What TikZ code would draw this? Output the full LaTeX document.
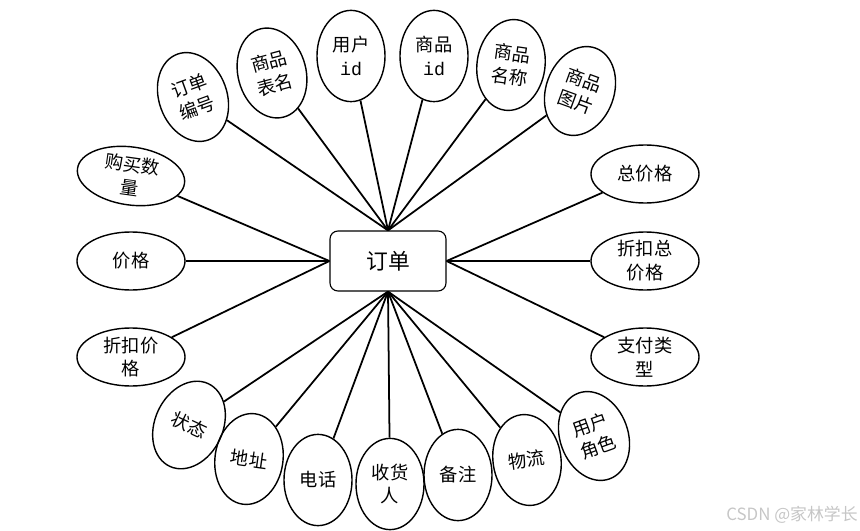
\documentclass[tikz,border=0pt]{standalone}
\usepackage{fontspec}
\setmainfont{Noto Sans CJK SC}
\newfontfamily\idfont{Liberation Mono}
\usetikzlibrary{shapes.geometric}
\tikzset{
  attr/.style={draw, ellipse, line width=1pt, inner sep=0pt,
    minimum width=1.7cm, minimum height=2.28cm, align=center,
    font=\fontsize{13}{17}\selectfont},
  wide/.style={minimum width=2.7cm, minimum height=1.45cm},
  entity/.style={draw, rounded corners=0.2cm, line width=0.8pt,
    minimum width=2.9cm, minimum height=1.5cm,
    font=\fontsize{15.5}{18}\selectfont},
  link/.style={line width=1.25pt},
}

\begin{document}
\begin{tikzpicture}[x=0.025cm, y=-0.025cm]
  \useasboundingbox (0,0) rectangle (860,531);
  % entity
  \node[entity] (order) at (388,261) {订单};
  % attributes above
  \node[attr, rotate=20] (ordno) at (193,97) {订单\\编号};
  \node[attr, rotate=15] (tbl) at (272,73) {商品\\表名};
  \node[attr] (uid) at (351,56) {用户\\{\idfont id}};
  \node[attr] (gid) at (434,56) {商品\\{\idfont id}};
  \node[attr, rotate=-8] (gname) at (511,65) {商品\\名称};
  \node[attr, rotate=-20] (gpic) at (580,91) {商品\\图片};
  % attributes left and right
  \node[attr, wide, rotate=-8] (qty) at (131,176) {购买数\\量};
  \node[attr, wide] (price) at (131,261) {价格};
  \node[attr, wide] (dprice) at (131,357) {折扣价\\格};
  \node[attr, wide] (sum) at (645,174) {总价格};
  \node[attr, wide] (dsum) at (645,261) {折扣总\\价格};
  \node[attr, wide] (pay) at (645,357) {支付类\\型};
  % attributes below
  \node[attr, rotate=-25] (state) at (189,425) {状态};
  \node[attr, rotate=-8] (addr) at (249,459) {地址};
  \node[attr] (tel) at (318,480) {电话};
  \node[attr] (recv) at (390,484) {收货\\人};
  \node[attr] (note) at (458,475) {备注};
  \node[attr, rotate=8] (ship) at (527,460) {物流};
  \node[attr, rotate=20] (role) at (594,436) {用户\\角色};
  % connectors
  \foreach \a in {ordno, tbl, uid, gid, gname, gpic}
    \draw[link] (\a) -- (order.north); %
  \foreach \a in {qty, price, dprice}
    \draw[link] (\a) -- (order.west); %
  \foreach \a in {sum, dsum, pay}
    \draw[link] (\a) -- (order.east); %
  \foreach \a in {state, addr, tel, recv, note, ship, role}
    \draw[link] (\a) -- (order.south); %
  % watermark
  \node[text=gray!45, font=\fontsize{12}{14}\selectfont] (mark) at (792,515) {CSDN @家林学长};
\end{tikzpicture}
\end{document}
